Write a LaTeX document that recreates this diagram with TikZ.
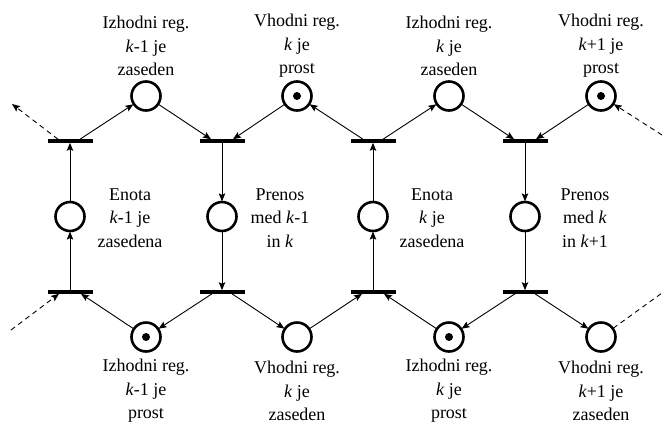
\documentclass[tikz,border=0pt]{standalone}
\usepackage{fontspec}
\setmainfont{Liberation Serif}
\usetikzlibrary{arrows.meta}
\tikzset{
  place/.style={circle,draw,line width=2.6pt,minimum size=29pt,inner sep=0pt,outer sep=0.6pt},
  trans/.style={rectangle,fill=black,minimum width=45pt,minimum height=3.6pt,inner sep=0pt,outer sep=0pt},
  token/.style={circle,fill=black,minimum size=8pt,inner sep=0pt},
  arr/.style={line width=0.9pt,-{Stealth[length=8pt,width=6.5pt,inset=1.5pt]}},
  dsh/.style={line width=0.9pt,dash pattern=on 5pt off 4pt},
  lbl/.style={align=center,font=\fontsize{18}{23.5}\selectfont,inner sep=0pt}
}
\begin{document}
\begin{tikzpicture}[x=1pt,y=-1pt]
\useasboundingbox (0,0) rectangle (662,424);
% transitions
\node[trans] (tA) at (70,141) {};
\node[trans] (tB) at (222,141) {};
\node[trans] (tC) at (373,141) {};
\node[trans] (tD) at (525,141) {};
\node[trans] (bA) at (70,292) {};
\node[trans] (bB) at (222,292) {};
\node[trans] (bC) at (373,292) {};
\node[trans] (bD) at (525,292) {};
% places top
\node[place] (p1) at (146,96) {};
\node[place] (p2) at (297,96) {};
\node[place] (p3) at (449,96) {};
\node[place] (p4) at (601,96) {};
% middle
\node[place] (m1) at (70,216.5) {};
\node[place] (m2) at (222,216.5) {};
\node[place] (m3) at (373,216.5) {};
\node[place] (m4) at (525,216.5) {};
% bottom
\node[place] (q1) at (146,337) {};
\node[place] (q2) at (297,337) {};
\node[place] (q3) at (449,337) {};
\node[place] (q4) at (601,337) {};
% tokens
\node[token] (k2) at (p2) {};
\node[token] (k4) at (p4) {};
\node[token] (k5) at (q1) {};
\node[token] (k7) at (q3) {};
% labels
\node[lbl] (l1) at (146,46) {Izhodni reg.\\\textit{k}-1 je\\zaseden};
\node[lbl] (l2) at (297,46) {Vhodni reg.\\\textit{k} je\\prost};
\node[lbl] (l3) at (449,46) {Izhodni reg.\\\textit{k} je\\zaseden};
\node[lbl] (l4) at (601,46) {Vhodni reg.\\\textit{k}+1 je\\prost};
\node[lbl] (l5) at (146,391) {Izhodni reg.\\\textit{k}-1 je\\prost};
\node[lbl] (l6) at (297,391) {Vhodni reg.\\\textit{k} je\\zaseden};
\node[lbl] (l7) at (449,391) {Izhodni reg.\\\textit{k} je\\prost};
\node[lbl] (l8) at (601,391) {Vhodni reg.\\\textit{k}+1 je\\zaseden};
\node[lbl] (c1) at (130,218) {Enota\\\textit{k}-1 je\\zasedena};
\node[lbl] (c2) at (280,218) {Prenos\\med \textit{k}-1\\in \textit{k}};
\node[lbl] (c3) at (432,218) {Enota\\\textit{k} je\\zasedena};
\node[lbl] (c4) at (585,218) {Prenos\\med \textit{k}\\in \textit{k}+1};
% free ends
\coordinate (eTL) at (12,104);
\coordinate (eBL) at (11,330);
\coordinate (eTR) at (662,135);
\coordinate (eBR) at (662,293);
% top arcs
\draw[arr] ([xshift=10pt]tA.north) -- (p1);
\draw[arr] (p1) -- ([xshift=-11pt]tB.north);
\draw[arr] (p2) -- ([xshift=11pt]tB.north);
\draw[arr] ([xshift=-10pt]tC.north) -- (p2);
\draw[arr] ([xshift=10pt]tC.north) -- (p3);
\draw[arr] (p3) -- ([xshift=-11pt]tD.north);
\draw[arr] (p4) -- ([xshift=11pt]tD.north);
\draw[dsh,-{Stealth[length=8pt,width=6.5pt,inset=1.5pt]}] (eTR) -- (p4);
\draw[dsh,-{Stealth[length=8pt,width=6.5pt,inset=1.5pt]}] ([xshift=-12pt]tA.north) -- (eTL);
% verticals
\draw[arr] (bA.north) -- (m1);
\draw[arr] (m1) -- (tA.south);
\draw[arr] (tB.south) -- (m2);
\draw[arr] (m2) -- (bB.north);
\draw[arr] (bC.north) -- (m3);
\draw[arr] (m3) -- (tC.south);
\draw[arr] (tD.south) -- (m4);
\draw[arr] (m4) -- (bD.north);
% bottom arcs
\draw[arr] (q1) -- ([xshift=11pt]bA.south);
\draw[dsh,-{Stealth[length=8pt,width=6.5pt,inset=1.5pt]}] (eBL) -- ([xshift=-11pt]bA.south);
\draw[arr] ([xshift=-10pt]bB.south) -- (q1);
\draw[arr] ([xshift=10pt]bB.south) -- (q2);
\draw[arr] (q2) -- ([xshift=-11pt]bC.south);
\draw[arr] (q3) -- ([xshift=11pt]bC.south);
\draw[arr] ([xshift=-10pt]bD.south) -- (q3);
\draw[arr] ([xshift=10pt]bD.south) -- (q4);
\draw[dsh] (q4) -- (eBR);
\end{tikzpicture}
\end{document}
